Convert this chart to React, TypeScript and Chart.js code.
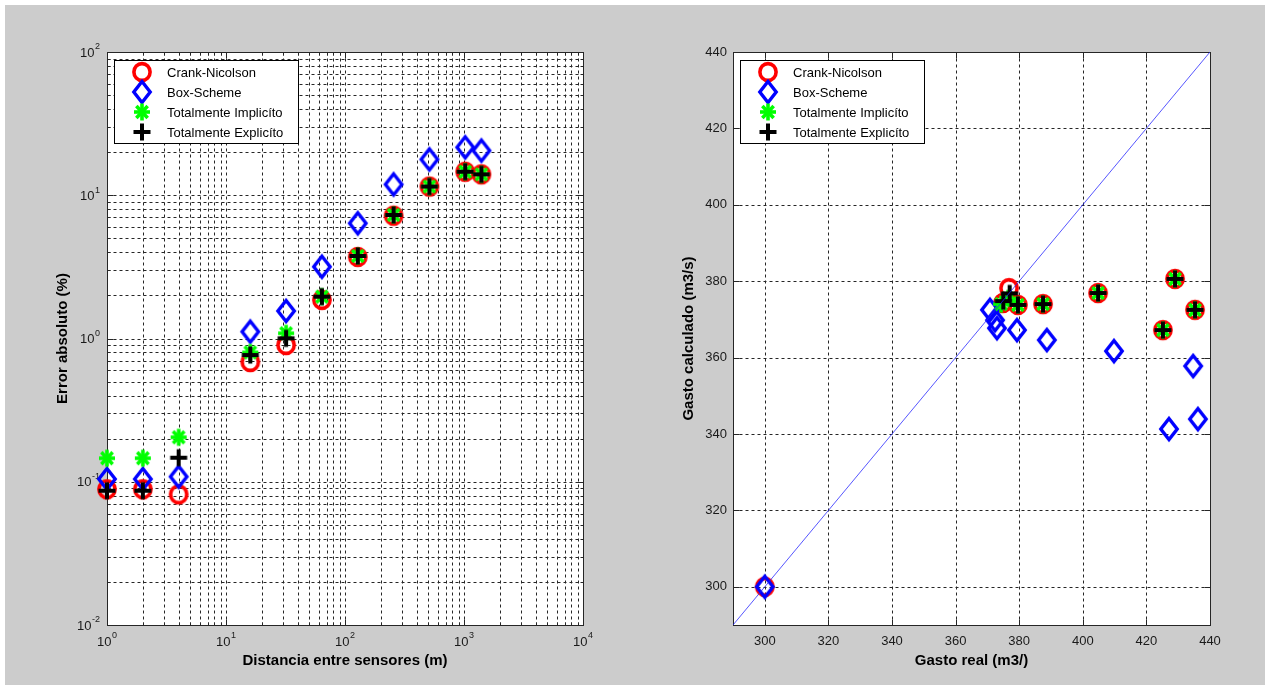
import React, { useEffect, useRef } from 'react';
import { Chart, registerables } from 'chart.js';

Chart.register(...registerables);

// ---- Left panel: absolute error (%) against sensor spacing (m) ----
const distances = [1, 2, 4, 16, 32, 64, 128, 256, 512, 1024, 1400];
const errCrank = [0.0886, 0.0886, 0.0817, 0.685, 0.9, 1.86, 3.71, 7.2, 11.5, 14.6, 14.0];
const errBox = [0.1045, 0.1045, 0.1085, 1.116, 1.556, 3.17, 6.37, 11.9, 17.8, 21.6, 20.5];
const errImplicit = [0.1459, 0.1459, 0.2043, 0.8, 1.087, 1.96, 3.77, 7.28, 11.5, 14.6, 14.0];
const errExplicit = [0.0866, 0.0866, 0.1472, 0.767, 1.003, 1.96, 3.77, 7.28, 11.5, 14.6, 14.0];

// ---- Right panel: computed discharge against measured discharge ----
const realCrank = [300, 376.8, 374.9, 379.6, 387.5, 404.8, 429.0, 425.2, 435.3];
const calcCrank = [300, 378.2, 374.3, 373.8, 374.0, 376.9, 380.6, 367.2, 372.5];
const realBox = [300, 370.8, 372.4, 373.0, 379.3, 388.7, 409.8, 434.7, 427.1, 436.2];
const calcBox = [300, 372.5, 369.8, 367.7, 367.2, 364.6, 361.7, 357.8, 341.3, 343.9];
const realImplicit = [374.3, 376.5, 379.6, 387.5, 404.8, 429.0, 425.2, 435.3];
const calcImplicit = [374.0, 375.5, 373.8, 374.0, 376.9, 380.6, 367.2, 372.5];
const realExplicit = [375.0, 377.0, 379.6, 387.5, 404.8, 429.0, 425.2, 435.3];
const calcExplicit = [374.8, 376.8, 373.8, 374.0, 376.9, 380.6, 367.2, 372.5];
const identityLine = [290, 440];

// ---- Axes ----
const logDecadesX = [1, 10, 100, 1000];
const logDecadesY = [0.01, 0.1, 1, 10];
const logLabelsX = [1, 10, 100, 1000, 10000];
const logLabelsY = [0.01, 0.1, 1, 10, 100];
const linearTicks = [300, 320, 340, 360, 380, 400, 420, 440];

const seriesNames = ['Crank-Nicolson', 'Box-Scheme', 'Totalmente Implicíto', 'Totalmente Explicíto'];
const leftTitles = { x: 'Distancia entre sensores (m)', y: 'Error absoluto (%)' };
const rightTitles = { x: 'Gasto real (m3/)', y: 'Gasto calculado (m3/s)' };

const FONT = '"Liberation Sans", Arial, Helvetica, sans-serif';

// every 1..9 multiple inside each decade, plus the closing power of ten
function logGrid(decades: number[]): number[] {
  const out: number[] = [];
  decades.forEach((d) => {
    for (let m = 1; m <= 9; m++) out.push(d * m);
  });
  out.push(decades[decades.length - 1] * 10);
  return out;
}

type Markers = {
  circle: HTMLCanvasElement;
  diamond: HTMLCanvasElement;
  star: HTMLCanvasElement;
  plus: HTMLCanvasElement;
};

function makeMarkers(): Markers {
  const mk = (w: number, h: number, draw: (g: CanvasRenderingContext2D, w: number, h: number) => void) => {
    const c = document.createElement('canvas');
    c.width = w;
    c.height = h;
    const g = c.getContext('2d')!;
    draw(g, w, h);
    return c;
  };
  const circle = mk(24, 24, (g, w, h) => {
    g.strokeStyle = '#ff0000';
    g.lineWidth = 3.6;
    g.beginPath();
    g.ellipse(w / 2, h / 2, 8.1, 8.4, 0, 0, Math.PI * 2);
    g.stroke();
  });
  const diamond = mk(28, 32, (g, w, h) => {
    g.strokeStyle = '#0000ff';
    g.lineWidth = 3.4;
    g.lineJoin = 'miter';
    g.beginPath();
    g.moveTo(w / 2, h / 2 - 10.5);
    g.lineTo(w / 2 + 8.2, h / 2);
    g.lineTo(w / 2, h / 2 + 10.5);
    g.lineTo(w / 2 - 8.2, h / 2);
    g.closePath();
    g.stroke();
  });
  const star = mk(22, 22, (g, w, h) => {
    g.strokeStyle = '#00ff00';
    g.lineWidth = 3.6;
    const cx = w / 2;
    const cy = h / 2;
    for (let k = 0; k < 4; k++) {
      const a = (k * Math.PI) / 4;
      g.beginPath();
      g.moveTo(cx - Math.cos(a) * 8, cy - Math.sin(a) * 8.5);
      g.lineTo(cx + Math.cos(a) * 8, cy + Math.sin(a) * 8.5);
      g.stroke();
    }
  });
  const plus = mk(22, 22, (g, w, h) => {
    g.strokeStyle = '#000000';
    g.lineWidth = 4;
    g.beginPath();
    g.moveTo(w / 2 - 8.5, h / 2);
    g.lineTo(w / 2 + 8.5, h / 2);
    g.moveTo(w / 2, h / 2 - 8.5);
    g.lineTo(w / 2, h / 2 + 8.5);
    g.stroke();
  });
  return { circle, diamond, star, plus };
}

type PanelSpec = {
  id: string;
  xGrid: number[];
  yGrid: number[];
  xMajor: number[];
  yMajor: number[];
  xLabels: number[];
  yLabels: number[];
  pow10: boolean;
  titles: { x: string; y: string };
  markers: Markers;
};

function drawPow10(ctx: CanvasRenderingContext2D, value: number, x: number, y: number, align: 'center' | 'right') {
  const exp = Math.round(Math.log10(value));
  const base = '10';
  const sup = String(exp);
  ctx.font = `13px ${FONT}`;
  const wb = ctx.measureText(base).width;
  ctx.font = `9px ${FONT}`;
  const ws = ctx.measureText(sup).width;
  const total = wb + ws + 0.5;
  const x0 = align === 'center' ? x - total / 2 : x - total;
  ctx.textAlign = 'left';
  ctx.textBaseline = 'middle';
  ctx.font = `13px ${FONT}`;
  ctx.fillText(base, x0, y + 1);
  ctx.font = `9px ${FONT}`;
  ctx.fillText(sup, x0 + wb + 0.5, y - 5);
}

function panelPlugin(spec: PanelSpec) {
  return {
    id: spec.id,
    beforeDraw(chart: any) {
      const { ctx, chartArea: a } = chart;
      ctx.save();
      ctx.fillStyle = '#ffffff';
      ctx.fillRect(a.left, a.top, a.right - a.left, a.bottom - a.top);
      ctx.restore();
    },
    beforeDatasetsDraw(chart: any) {
      const { ctx, chartArea: a } = chart;
      const xs = chart.scales.x;
      const ys = chart.scales.y;
      const l = Math.round(a.left) + 0.5;
      const r = Math.round(a.right) + 0.5;
      const t = Math.round(a.top) + 0.5;
      const b = Math.round(a.bottom) + 0.5;
      const seg = (x1: number, y1: number, x2: number, y2: number) => {
        ctx.beginPath();
        ctx.moveTo(x1, y1);
        ctx.lineTo(x2, y2);
        ctx.stroke();
      };
      ctx.save();
      // dotted grid
      ctx.strokeStyle = '#262626';
      ctx.lineWidth = 1;
      ctx.setLineDash([3, 3]);
      spec.xGrid.forEach((v) => {
        const px = Math.round(xs.getPixelForValue(v)) + 0.5;
        seg(px, t, px, b);
      });
      spec.yGrid.forEach((v) => {
        const py = Math.round(ys.getPixelForValue(v)) + 0.5;
        seg(l, py, r, py);
      });
      ctx.setLineDash([]);
      // inward tick marks on all four sides
      spec.xGrid.forEach((v) => {
        const px = Math.round(xs.getPixelForValue(v)) + 0.5;
        const len = spec.xMajor.includes(v) ? 6 : 3;
        seg(px, b, px, b - len);
        seg(px, t, px, t + len);
      });
      spec.yGrid.forEach((v) => {
        const py = Math.round(ys.getPixelForValue(v)) + 0.5;
        const len = spec.yMajor.includes(v) ? 6 : 3;
        seg(l, py, l + len, py);
        seg(r, py, r - len, py);
      });
      // axes box
      ctx.strokeRect(l, t, r - l, b - t);

      // tick labels
      ctx.fillStyle = '#1a1a1a';
      spec.xLabels.forEach((v) => {
        const px = xs.getPixelForValue(v);
        if (spec.pow10) {
          drawPow10(ctx, v, px, a.bottom + 16, 'center');
        } else {
          ctx.font = `13px ${FONT}`;
          ctx.textAlign = 'center';
          ctx.textBaseline = 'middle';
          ctx.fillText(String(v), px, a.bottom + 16);
        }
      });
      spec.yLabels.forEach((v) => {
        const py = ys.getPixelForValue(v);
        if (spec.pow10) {
          drawPow10(ctx, v, a.left - 7, py, 'right');
        } else {
          ctx.font = `13px ${FONT}`;
          ctx.textAlign = 'right';
          ctx.textBaseline = 'middle';
          ctx.fillText(String(v), a.left - 6, py);
        }
      });

      // axis titles
      ctx.fillStyle = '#000000';
      ctx.font = `bold 15px ${FONT}`;
      ctx.textAlign = 'center';
      ctx.textBaseline = 'middle';
      ctx.fillText(spec.titles.x, (a.left + a.right) / 2, a.bottom + 36);
      ctx.save();
      ctx.translate(a.left - 44, (a.top + a.bottom) / 2);
      ctx.rotate(-Math.PI / 2);
      ctx.fillText(spec.titles.y, 0, 0);
      ctx.restore();
      ctx.restore();
    },
    afterDraw(chart: any) {
      const { ctx, chartArea: a } = chart;
      const m = spec.markers;
      const icons = [m.circle, m.diamond, m.star, m.plus];
      const x = Math.round(a.left) + 7;
      const y = Math.round(a.top) + 8;
      const w = 184;
      const h = 83;
      ctx.save();
      ctx.fillStyle = '#ffffff';
      ctx.fillRect(x, y, w, h);
      ctx.strokeStyle = '#000000';
      ctx.lineWidth = 1;
      ctx.strokeRect(x + 0.5, y + 0.5, w, h);
      ctx.font = `13px ${FONT}`;
      ctx.textAlign = 'left';
      ctx.textBaseline = 'middle';
      ctx.fillStyle = '#000000';
      seriesNames.forEach((name, i) => {
        const ry = y + 12 + i * 20;
        const ic = icons[i];
        ctx.drawImage(ic, x + 28 - ic.width / 2, ry - ic.height / 2);
        ctx.fillText(name, x + 53, ry + 1);
      });
      ctx.restore();
    },
  };
}

function scatterSet(label: string, xs: number[], ys: number[], style: HTMLCanvasElement, order: number) {
  return {
    label,
    data: xs.map((v, i) => ({ x: v, y: ys[i] })),
    pointStyle: style,
    pointRadius: 10,
    pointHoverRadius: 10,
    showLine: false,
    clip: false as any,
    order,
  };
}

const zeroWidth = (s: any) => {
  s.width = 0;
};
const zeroHeight = (s: any) => {
  s.height = 0;
};

export default function App() {
  const leftRef = useRef<HTMLCanvasElement>(null);
  const rightRef = useRef<HTMLCanvasElement>(null);

  useEffect(() => {
    const markers = makeMarkers();

    const hiddenAxis = {
      ticks: { display: false },
      grid: { display: false },
      border: { display: false },
    };

    const left = new Chart(leftRef.current!, {
      type: 'scatter',
      data: {
        datasets: [
          scatterSet(seriesNames[0], distances, errCrank, markers.circle, 4),
          scatterSet(seriesNames[1], distances, errBox, markers.diamond, 3),
          scatterSet(seriesNames[2], distances, errImplicit, markers.star, 2),
          scatterSet(seriesNames[3], distances, errExplicit, markers.plus, 1),
        ],
      },
      options: {
        responsive: false,
        animation: false,
        events: [],
        layout: { padding: { left: 107, right: 57, top: 52, bottom: 64 } },
        plugins: { legend: { display: false }, tooltip: { enabled: false } },
        scales: {
          x: { type: 'logarithmic', min: 1, max: 10000, ...hiddenAxis, afterFit: zeroHeight },
          y: { type: 'logarithmic', min: 0.01, max: 100, ...hiddenAxis, afterFit: zeroWidth },
        },
      } as any,
      plugins: [
        panelPlugin({
          id: 'errorPanel',
          xGrid: logGrid(logDecadesX),
          yGrid: logGrid(logDecadesY),
          xMajor: logLabelsX,
          yMajor: logLabelsY,
          xLabels: logLabelsX,
          yLabels: logLabelsY,
          pow10: true,
          titles: leftTitles,
          markers,
        }),
      ],
    });

    const right = new Chart(rightRef.current!, {
      type: 'scatter',
      data: {
        datasets: [
          {
            label: 'y = x',
            data: identityLine.map((v) => ({ x: v, y: v })),
            showLine: true,
            borderColor: 'rgba(30,30,255,0.75)',
            borderWidth: 1,
            pointRadius: 0,
            order: 0,
          },
          scatterSet(seriesNames[0], realCrank, calcCrank, markers.circle, 4),
          scatterSet(seriesNames[1], realBox, calcBox, markers.diamond, 3),
          scatterSet(seriesNames[2], realImplicit, calcImplicit, markers.star, 2),
          scatterSet(seriesNames[3], realExplicit, calcExplicit, markers.plus, 1),
        ],
      },
      options: {
        responsive: false,
        animation: false,
        events: [],
        layout: { padding: { left: 93, right: 60, top: 52, bottom: 64 } },
        plugins: { legend: { display: false }, tooltip: { enabled: false } },
        scales: {
          x: { type: 'linear', min: 290, max: 440, ...hiddenAxis, afterFit: zeroHeight },
          y: { type: 'linear', min: 290, max: 440, ...hiddenAxis, afterFit: zeroWidth },
        },
      } as any,
      plugins: [
        panelPlugin({
          id: 'flowPanel',
          xGrid: linearTicks,
          yGrid: linearTicks,
          xMajor: linearTicks,
          yMajor: linearTicks,
          xLabels: linearTicks,
          yLabels: linearTicks,
          pow10: false,
          titles: rightTitles,
          markers,
        }),
      ],
    });

    return () => {
      left.destroy();
      right.destroy();
    };
  }, []);

  return (
    <div
      style={{
        position: 'fixed',
        left: 0,
        top: 0,
        width: 1270,
        height: 689,
        background: '#ffffff',
        overflow: 'hidden',
      }}
    >
      <div style={{ position: 'absolute', left: 5, top: 5, width: 1260, height: 680, background: '#cccccc' }} />
      <canvas ref={leftRef} width={640} height={689} style={{ position: 'absolute', left: 0, top: 0 }} />
      <canvas ref={rightRef} width={630} height={689} style={{ position: 'absolute', left: 640, top: 0 }} />
    </div>
  );
}
